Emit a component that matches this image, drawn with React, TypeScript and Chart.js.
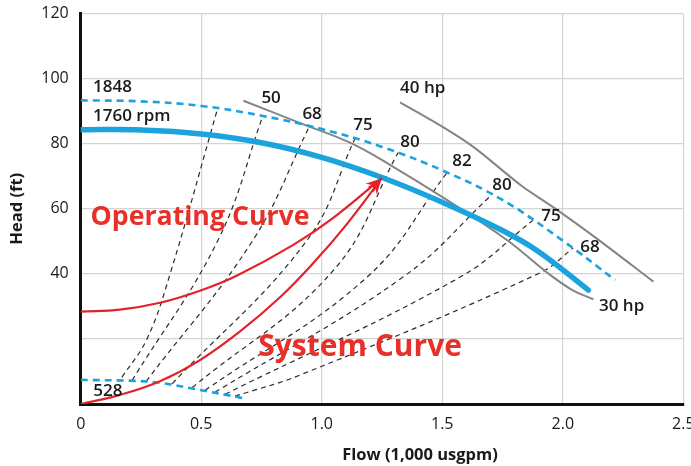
import React, { useEffect, useRef } from "react";
import { Chart, registerables } from "chart.js";

Chart.register(...registerables);

const FONT = "'Open Sans', 'Noto Sans', sans-serif";

// Axis ranges / ticks
const xRange = [0, 2.5];
const yRange = [0, 120];
const xStep = 0.5;
const yStep = 20;
const yLabelMin = 40;

// Pump curves (Flow in 1,000 usgpm, Head in ft)
const pump1760 = [[0, 84.3], [0.25, 84.2], [0.5, 83.0], [0.75, 80.3], [1.0, 75.8], [1.25, 69.6], [1.5, 62.0], [1.75, 53.3], [1.9, 46.8], [2.106, 35.0]];
const pump1848 = [[0, 93.3], [0.25, 93.0], [0.5, 91.6], [0.75, 88.6], [1.0, 84.5], [1.25, 79.0], [1.5, 71.8], [1.75, 62.7], [2.0, 50.2], [2.217, 38.1]];
const pump528 = [[0, 7.4], [0.226, 7.1], [0.329, 6.5], [0.474, 4.6], [0.675, 1.8]];

// Power curves
const power30 = [[0.675, 93.2], [0.911, 86.3], [1.117, 80.3], [1.283, 73.5], [1.519, 62.7], [1.768, 50.4], [1.933, 40.5], [2.04, 35.0], [2.127, 32.2]];
const power40 = [[1.325, 92.7], [1.505, 85.0], [1.629, 79.0], [1.83, 67.0], [1.96, 60.5], [2.14, 50.9], [2.376, 37.6]];

// Iso-efficiency lines
const eff1 = [[0.171, 8.2], [0.275, 20], [0.371, 40], [0.57, 91.3]];
const eff50 = [[0.213, 7.2], [0.57, 50.4], [0.756, 88.6]];
const eff68a = [[0.271, 6.9], [0.715, 50.4], [0.947, 85.0]];
const eff75a = [[0.379, 6.2], [0.94, 50.4], [1.138, 81.6]];
const eff80a = [[0.462, 5.0], [1.05, 41.2], [1.317, 77.3]];
const eff82 = [[0.516, 4.2], [1.188, 39.0], [1.52, 71.1]];
const eff80b = [[0.557, 3.6], [1.337, 39.0], [1.707, 64.4]];
const eff75b = [[0.599, 3.0], [1.574, 39.0], [1.877, 56.5]];
const eff68b = [[0.64, 2.4], [0.91, 8.9], [1.906, 40.3], [2.043, 47.9]];

// System / operating curves
const operatingCurve = [[0, 28.4], [0.163, 29.0], [0.329, 31.1], [0.495, 34.8], [0.647, 39.4], [0.882, 48.9], [1.048, 57.2], [1.249, 69.4]];
const systemCurve = [[0, 0], [0.163, 2.8], [0.329, 7.0], [0.495, 13.5], [0.661, 22.3], [0.827, 32.8], [0.965, 43.3], [1.1, 54.9], [1.249, 69.4]];

// Text annotations (anchored in data coordinates)
const smallLabels = [
  { text: "1848", x: 0.051, y: 97.4, align: "left" },
  { text: "1760 rpm", x: 0.051, y: 88.5, align: "left" },
  { text: "50", x: 0.79, y: 94.0, align: "center" },
  { text: "68", x: 0.96, y: 89.1, align: "center" },
  { text: "75", x: 1.171, y: 85.7, align: "center" },
  { text: "80", x: 1.366, y: 80.6, align: "center" },
  { text: "82", x: 1.582, y: 74.5, align: "center" },
  { text: "80", x: 1.748, y: 67.3, align: "center" },
  { text: "75", x: 1.951, y: 57.6, align: "center" },
  { text: "68", x: 2.113, y: 48.3, align: "center" },
  { text: "40 hp", x: 1.325, y: 97.0, align: "left" },
  { text: "30 hp", x: 2.244, y: 30.1, align: "center" },
  { text: "528", x: 0.113, y: 4.0, align: "center" },
];
const bigLabels = [
  { text: "Operating Curve", x: 0.495, y: 55.0, size: 26.7 },
  { text: "System Curve", x: 1.159, y: 14.75, size: 30 },
];
const xTitle = "Flow (1,000 usgpm)";
const yTitle = "Head (ft)";

const BLUE = "#1ba3dd";
const GRAY = "#858585";
const DASHK = "#2b2b2b";
const RED = "#e2232b";

const toPts = (arr: number[][]) => arr.map(([x, y]) => ({ x, y }));

const overlay = {
  id: "overlay",
  afterDatasetsDraw(chart: any) {
    const { ctx } = chart;
    const xs = chart.scales.x;
    const ys = chart.scales.y;
    // arrowheads
    chart.data.datasets.forEach((ds: any, i: number) => {
      if (!ds.arrow) return;
      const pts = chart.getDatasetMeta(i).data;
      const p1 = pts[pts.length - 1];
      const p0 = pts[pts.length - 2];
      const ang = Math.atan2(p1.y - p0.y, p1.x - p0.x);
      const L = 16, W = 6;
      ctx.save();
      ctx.fillStyle = ds.borderColor;
      ctx.beginPath();
      ctx.moveTo(p1.x, p1.y);
      ctx.lineTo(p1.x - L * Math.cos(ang) + W * Math.sin(ang), p1.y - L * Math.sin(ang) - W * Math.cos(ang));
      ctx.lineTo(p1.x - L * 0.7 * Math.cos(ang), p1.y - L * 0.7 * Math.sin(ang));
      ctx.lineTo(p1.x - L * Math.cos(ang) - W * Math.sin(ang), p1.y - L * Math.sin(ang) + W * Math.cos(ang));
      ctx.closePath();
      ctx.fill();
      ctx.restore();
    });
    ctx.save();
    ctx.textBaseline = "middle";
    ctx.fillStyle = "#1a1a1a";
    ctx.font = `600 17px ${FONT}`;
    smallLabels.forEach((l) => {
      ctx.textAlign = l.align;
      ctx.fillText(l.text, xs.getPixelForValue(l.x), ys.getPixelForValue(l.y));
    });
    ctx.fillStyle = "#e8302a";
    ctx.textAlign = "center";
    ctx.textBaseline = "alphabetic";
    bigLabels.forEach((l) => {
      ctx.font = `700 ${l.size}px ${FONT}`;
      ctx.fillText(l.text, xs.getPixelForValue(l.x), ys.getPixelForValue(l.y));
    });
    ctx.restore();
  },
  afterDraw(chart: any) {
    const { ctx, chartArea } = chart;
    ctx.save();
    ctx.fillStyle = "#1a1a1a";
    ctx.font = `700 16.5px ${FONT}`;
    ctx.textAlign = "center";
    ctx.textBaseline = "middle";
    ctx.fillText(xTitle, 420, 455);
    ctx.translate(17, (chartArea.top + chartArea.bottom) / 2);
    ctx.rotate(-Math.PI / 2);
    ctx.fillText(yTitle, 0, 0);
    ctx.restore();
  },
};

export default function App() {
  const ref = useRef<HTMLCanvasElement>(null);
  useEffect(() => {
    const line = (data: number[][], color: string, width: number, extra: any = {}) => ({
      data: toPts(data),
      showLine: true,
      borderColor: color,
      backgroundColor: color,
      borderWidth: width,
      pointRadius: 0,
      tension: 0.4,
      fill: false,
      ...extra,
    });
    const effStyle = { borderDash: [5, 4] };
    const chart = new Chart(ref.current as HTMLCanvasElement, {
      type: "scatter",
      data: {
        datasets: [
          line(operatingCurve, RED, 2.2, { arrow: true }),
          line(systemCurve, RED, 2.2, { arrow: true }),
          line(pump1760, BLUE, 5.5, { borderCapStyle: "round" }),
          line(pump1848, BLUE, 2.6, { borderDash: [7, 5] }),
          line(pump528, BLUE, 2.6, { borderDash: [7, 5] }),
          line(power30, GRAY, 2),
          line(power40, GRAY, 2, { tension: 0.3 }),
          line(eff1, DASHK, 1.2, effStyle),
          line(eff50, DASHK, 1.2, effStyle),
          line(eff68a, DASHK, 1.2, effStyle),
          line(eff75a, DASHK, 1.2, effStyle),
          line(eff80a, DASHK, 1.2, effStyle),
          line(eff82, DASHK, 1.2, effStyle),
          line(eff80b, DASHK, 1.2, effStyle),
          line(eff75b, DASHK, 1.2, effStyle),
          line(eff68b, DASHK, 1.2, effStyle),
        ] as any,
      },
      options: {
        animation: false,
        responsive: true,
        maintainAspectRatio: false,
        events: [],
        layout: { padding: { top: 13.5, right: 7.7, bottom: 0, left: 0 } },
        plugins: { legend: { display: false }, tooltip: { enabled: false } },
        scales: {
          x: {
            type: "linear",
            min: xRange[0],
            max: xRange[1],
            afterFit: (s: any) => {
              s.height = 62;
              s.paddingLeft = 0;
              s.paddingRight = 0;
            },
            ticks: { stepSize: xStep, color: "#1a1a1a", font: { family: FONT, size: 16, weight: "500" }, padding: 11, maxRotation: 0 },
            grid: { color: "#d4d4d4", lineWidth: 1.2, drawTicks: false },
            border: { display: true, color: "#111", width: 3 },
          },
          y: {
            type: "linear",
            min: yRange[0],
            max: yRange[1],
            afterFit: (s: any) => {
              s.width = 80.7;
              s.paddingTop = 0;
              s.paddingBottom = 0;
            },
            ticks: {
              stepSize: yStep,
              color: "#1a1a1a",
              font: { family: FONT, size: 16, weight: "500" },
              padding: 12,
              callback: (v: any) => (v >= yLabelMin ? String(v) : ""),
            },
            grid: { color: "#d4d4d4", lineWidth: 1.2, drawTicks: false },
            border: { display: true, color: "#111", width: 3 },
          },
        },
      } as any,
      plugins: [overlay as any],
    });
    return () => chart.destroy();
  }, []);
  return (
    <div style={{ position: "fixed", left: 0, top: 0, width: 691, height: 466, background: "#fff" }}>
      <canvas ref={ref} />
    </div>
  );
}
